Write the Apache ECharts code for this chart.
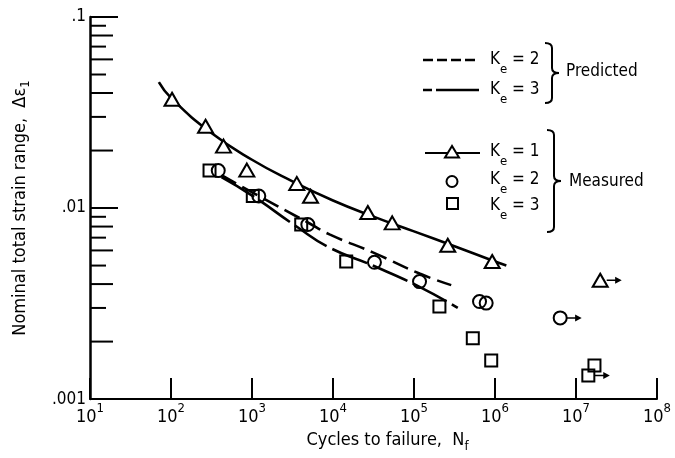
<!DOCTYPE html>
<html>
<head>
<meta charset="utf-8">
<script src="https://cdn.jsdelivr.net/npm/echarts@6/dist/echarts.min.js"></script>
<style>
  html, body { margin: 0; padding: 0; background: #fff; }
  #main { width: 675px; height: 458px; }
</style>
</head>
<body>
<div id="main"></div>
<script>
// strain range vs cycles to failure, log-log
const yMinorTicks = [0.002, 0.003, 0.004, 0.005, 0.006, 0.007, 0.008, 0.009,
  0.02, 0.03, 0.04, 0.05, 0.06, 0.07, 0.08, 0.09];

// measured, Ke = 1 (triangles)
const measuredKe1 = [[103, 0.0371], [267, 0.0268], [445, 0.0211], [863, 0.0158],
  [3570, 0.01345], [5280, 0.01153], [26900, 0.00948], [53800, 0.00837],
  [261000, 0.00639], [923000, 0.00525], [1.99e7, 0.00419]];
// measured, Ke = 2 (circles)
const measuredKe2 = [[383, 0.0157], [1213, 0.01156], [4890, 0.0082], [32500, 0.0052],
  [117000, 0.00412], [644000, 0.00324], [778000, 0.00318], [6.38e6, 0.00266]];
// measured, Ke = 3 (squares)
const measuredKe3 = [[299, 0.0157], [1023, 0.01156], [4050, 0.0082], [14550, 0.00525],
  [206000, 0.00305], [532000, 0.00208], [898000, 0.00159], [1.69e7, 0.0015], [1.42e7, 0.00133]];
// run-outs (arrow to the right)
const runouts = [[1.99e7, 0.00419], [6.38e6, 0.00266], [1.42e7, 0.00133]];

// curve through Ke = 1 data
const fitKe1 = [[70.8, 0.0456], [100, 0.0377], [316, 0.0247], [1000, 0.0179], [3162, 0.0138],
  [10000, 0.01096], [31623, 0.00902], [100000, 0.00755], [316228, 0.00631],
  [1000000, 0.00525], [1.38e6, 0.00501]];
// predicted lines
const predictedKe2 = [[420, 0.01486], [1203, 0.01159], [4890, 0.0084], [9060, 0.00728],
  [31000, 0.00586], [117000, 0.00454], [288000, 0.00395]];
const predictedKe3 = [[420, 0.01452], [1015, 0.01159], [3510, 0.00803], [9060, 0.00621],
  [31000, 0.005], [117000, 0.00387], [347000, 0.003]];

const FONT = '"DejaVu Sans Condensed", "DejaVu Sans", sans-serif';

let myChart = echarts.init(document.getElementById('main'));

function keText(x, y, n) {
  return {
    type: 'text', x: x, y: y,
    style: {
      text: '{k|K}{e|e}{k| = ' + n + '}',
      verticalAlign: 'middle',
      rich: {
        k: { fontSize: 17, fontFamily: FONT, lineHeight: 32, fill: '#000' },
        e: { fontSize: 13, fontFamily: FONT, verticalAlign: 'bottom', fill: '#000' }
      }
    }
  };
}

// curly brace "}" made of quadratic curves and lines
function brace(x0, yTop, yBot, w) {
  const xm = x0 + w / 2, ym = (yTop + yBot) / 2, r = 5;
  const st = { fill: 'none', stroke: '#000', lineWidth: 2 };
  return {
    type: 'group',
    children: [
      { type: 'bezierCurve', shape: { x1: x0, y1: yTop, cpx1: xm, cpy1: yTop, x2: xm, y2: yTop + r }, style: st },
      { type: 'line', shape: { x1: xm, y1: yTop + r, x2: xm, y2: ym - r }, style: st },
      { type: 'bezierCurve', shape: { x1: xm, y1: ym - r, cpx1: xm, cpy1: ym, x2: x0 + w, y2: ym }, style: st },
      { type: 'bezierCurve', shape: { x1: x0 + w, y1: ym, cpx1: xm, cpy1: ym, x2: xm, y2: ym + r }, style: st },
      { type: 'line', shape: { x1: xm, y1: ym + r, x2: xm, y2: yBot - r }, style: st },
      { type: 'bezierCurve', shape: { x1: xm, y1: yBot - r, cpx1: xm, cpy1: yBot, x2: x0, y2: yBot }, style: st }
    ]
  };
}

const option = {
  animation: false,
  backgroundColor: '#fff',
  grid: { left: 90, right: 18, top: 17, bottom: 54 },
  xAxis: {
    type: 'log',
    logBase: 10,
    min: 10,
    max: 1e8,
    interval: 1,
    splitNumber: 7,
    name: '{n|Cycles to failure,  N}{f|f}',
    nameLocation: 'middle',
    nameGap: 24,
    nameTextStyle: {
      padding: [0, 0, 0, 28],
      rich: {
        n: { fontSize: 18, fontFamily: FONT, color: '#000', lineHeight: 26 },
        f: { fontSize: 13, fontFamily: FONT, color: '#000', verticalAlign: 'bottom' }
      }
    },
    axisLine: { lineStyle: { color: '#000', width: 2 } },
    axisTick: { inside: true, length: 21, lineStyle: { color: '#000', width: 2 } },
    splitLine: { show: false },
    axisLabel: {
      margin: 3,
      formatter: function (v) {
        return '{b|10}{s|' + Math.round(Math.log10(v)) + '}';
      },
      rich: {
        b: { fontSize: 18, fontFamily: FONT, color: '#000', lineHeight: 30 },
        s: { fontSize: 13, fontFamily: FONT, color: '#000', verticalAlign: 'top' }
      }
    }
  },
  yAxis: {
    type: 'log',
    logBase: 10,
    min: 0.001,
    max: 0.1,
    interval: 1,
    splitNumber: 2,
    name: '{n|Nominal total strain range,  \u0394\u03b5}{s|1}',
    nameLocation: 'middle',
    nameGap: 58,
    nameTextStyle: {
      rich: {
        n: { fontSize: 18, fontFamily: FONT, color: '#000', lineHeight: 24 },
        s: { fontSize: 13, fontFamily: FONT, color: '#000', verticalAlign: 'bottom' }
      }
    },
    axisLine: { lineStyle: { color: '#000', width: 2.5 } },
    axisTick: { inside: true, length: 28, lineStyle: { color: '#000', width: 2 } },
    splitLine: { show: false },
    axisLabel: {
      margin: 4,
      fontSize: 17,
      fontFamily: FONT,
      color: '#000',
      formatter: function (v) {
        const e = Math.round(Math.log10(v));
        return '.' + '0'.repeat(-e - 1) + '1';
      }
    }
  },
  series: [
    {
      type: 'custom',
      silent: true,
      data: yMinorTicks.map(v => [10, v]),
      renderItem: function (params, api) {
        const v = api.value(1);
        const p = api.coord([api.value(0), v]);
        const m = Math.round(v / Math.pow(10, Math.floor(Math.log10(v) + 1e-9)));
        const len = m % 2 === 0 ? 23 : 16;
        return {
          type: 'line',
          shape: { x1: p[0], y1: p[1], x2: p[0] + len, y2: p[1] },
          style: { stroke: '#000', lineWidth: 2 }
        };
      }
    },
    {
      name: 'fit Ke=1', type: 'line', data: fitKe1, smooth: true, symbol: 'none',
      lineStyle: { color: '#000', width: 2.6 }
    },
    {
      name: 'Predicted Ke=2', type: 'line', data: predictedKe2, smooth: true, symbol: 'none',
      lineStyle: { color: '#000', width: 2.6, type: [17, 7] }
    },
    {
      name: 'Predicted Ke=3', type: 'line', data: predictedKe3, smooth: true, symbol: 'none',
      lineStyle: { color: '#000', width: 2.6, type: [38, 6] }
    },
    {
      name: 'Measured Ke=1', type: 'scatter', data: measuredKe1, symbol: 'triangle',
      symbolSize: [15, 13], z: 5,
      itemStyle: { color: '#fff', borderColor: '#000', borderWidth: 2, opacity: 1 }
    },
    {
      name: 'Measured Ke=2', type: 'scatter', data: measuredKe2, symbol: 'circle',
      symbolSize: 13, z: 5,
      itemStyle: { color: 'rgba(0,0,0,0)', borderColor: '#000', borderWidth: 2, opacity: 1 }
    },
    {
      name: 'Measured Ke=3', type: 'scatter', data: measuredKe3, symbol: 'rect',
      symbolSize: 12, z: 5,
      itemStyle: { color: 'rgba(0,0,0,0)', borderColor: '#000', borderWidth: 2, opacity: 1 }
    },
    {
      name: 'runout', type: 'scatter', data: runouts,
      symbol: 'path://M0,3.3 L9,3.3 L9,0.5 L16,4 L9,7.5 L9,4.7 L0,4.7 Z',
      symbolSize: [15, 7], symbolOffset: [14, 0], z: 4,
      itemStyle: { color: '#000', opacity: 1 }
    }
  ],
  graphic: [
    { type: 'line', shape: { x1: 423, y1: 60, x2: 479, y2: 60 },
      style: { stroke: '#000', lineWidth: 2.5, lineDash: [10, 4] } },
    keText(490, 60, 2),
    { type: 'line', shape: { x1: 423, y1: 90, x2: 479, y2: 90 },
      style: { stroke: '#000', lineWidth: 2.5, lineDash: [9, 4, 44, 4] } },
    keText(490, 90, 3),
    brace(545, 43, 103, 14),
    { type: 'text', x: 566, y: 72,
      style: { text: 'Predicted', font: '17px ' + FONT, fill: '#000', verticalAlign: 'middle' } },

    { type: 'line', shape: { x1: 425, y1: 153, x2: 480, y2: 153 },
      style: { stroke: '#000', lineWidth: 2 } },
    { type: 'polygon', shape: { points: [[452, 146], [445, 157.5], [459, 157.5]] },
      style: { fill: '#fff', stroke: '#000', lineWidth: 2 } },
    keText(490, 152, 1),
    { type: 'circle', shape: { cx: 452, cy: 181.5, r: 5.5 },
      style: { fill: 'none', stroke: '#000', lineWidth: 2 } },
    keText(490, 180, 2),
    { type: 'rect', shape: { x: 447, y: 198, width: 11, height: 11 },
      style: { fill: 'none', stroke: '#000', lineWidth: 2 } },
    keText(490, 206, 3),
    brace(547, 130, 232, 14),
    { type: 'text', x: 569, y: 182,
      style: { text: 'Measured', font: '17px ' + FONT, fill: '#000', verticalAlign: 'middle' } }
  ]
};

myChart.setOption(option);
</script>
</body>
</html>
